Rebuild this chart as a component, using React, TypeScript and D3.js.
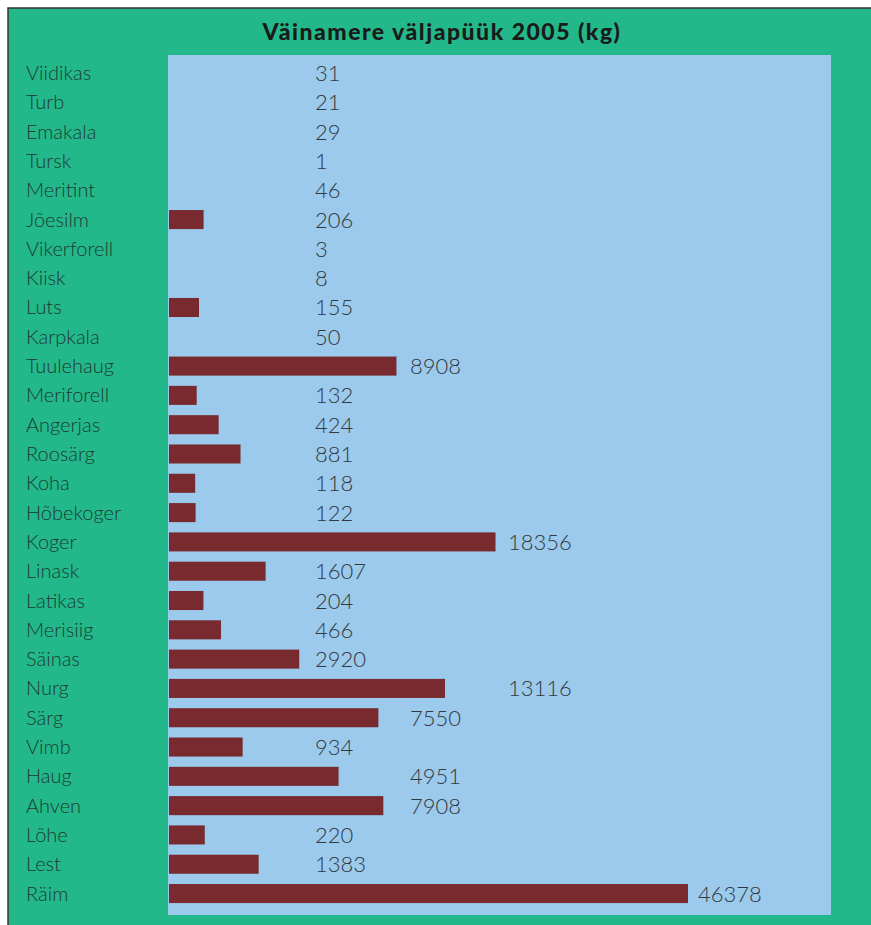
import React from "react";
import * as d3 from "d3";

const TITLE = "Väinamere väljapüük 2005 (kg)";
const species = [
  "Viidikas", "Turb", "Emakala", "Tursk", "Meritint", "Jõesilm", "Vikerforell", "Kiisk",
  "Luts", "Karpkala", "Tuulehaug", "Meriforell", "Angerjas", "Roosärg", "Koha", "Hõbekoger",
  "Koger", "Linask", "Latikas", "Merisiig", "Säinas", "Nurg", "Särg", "Vimb", "Haug",
  "Ahven", "Lõhe", "Lest", "Räim",
];
const catchKg = [
  31, 21, 29, 1, 46, 206, 3, 8, 155, 50, 8908, 132, 424, 881, 118, 122, 18356, 1607,
  204, 466, 2920, 13116, 7550, 934, 4951, 7908, 220, 1383, 46378,
];
const MIN_BAR_VALUE = 100;
const labelStops = [315, 410, 508];

const W = 871;
const H = 925;
const GREEN = "#23B88A";
const BLUE = "#9BCAEC";
const BAR = "#782A2E";

export default function App() {
  const plot = { x0: 168, x1: 831, y0: 55, y1: 915 };
  const y = d3.scaleBand<string>().domain(species).range([58.4, 908.2]).paddingInner(0.35).paddingOuter(0.175);
  const x = d3.scaleSqrt().domain([0, d3.max(catchKg) as number]).range([169, 688]);
  const font = "Lato, 'Open Sans', sans-serif";

  return (
    <svg width={W} height={H} style={{ position: "absolute", left: 0, top: 0 }}>
      <rect x={0} y={0} width={W} height={H} fill="#fff" />
      <rect x={8} y={8} width={W + 10} height={H + 10} fill={GREEN} stroke="#333" strokeWidth={1.5} />
      <text x={442} y={40} textAnchor="middle" fontFamily={font} fontWeight={900} fontSize={23} letterSpacing={1.5} fill="#1a1a1a">
        {TITLE}
      </text>
      <rect x={plot.x0} y={plot.y0} width={plot.x1 - plot.x0} height={plot.y1 - plot.y0} fill={BLUE} />
      {species.map((s, i) => {
        const v = catchKg[i];
        const band = y(s) as number;
        const cy = band + y.bandwidth() / 2;
        const end = v >= MIN_BAR_VALUE ? x(v) : x(0);
        const want = end + 10;
        const lx = labelStops.find((t) => t >= want) ?? want;
        return (
          <g key={s}>
            <text x={26} y={cy + 7} fontFamily={font} fontWeight={300} fontSize={20} fill="#1c3b32">
              {s}
            </text>
            {v >= MIN_BAR_VALUE && (
              <rect x={x(0)} y={band} width={x(v) - x(0)} height={y.bandwidth()} fill={BAR} />
            )}
            <text x={lx} y={cy + 8} fontFamily={font} fontWeight={300} fontSize={22} fill="#333940">
              {v}
            </text>
          </g>
        );
      })}
    </svg>
  );
}
